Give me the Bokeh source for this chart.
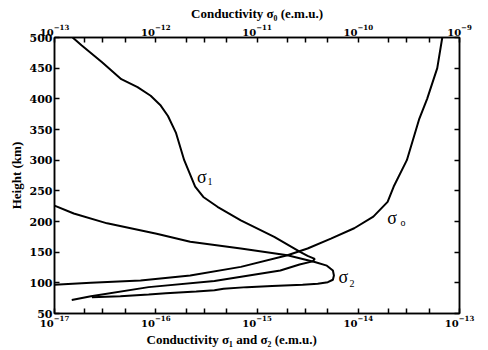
from bokeh.plotting import figure
from bokeh.models import (Range1d, LogScale, LogAxis, LinearAxis, FixedTicker, Label, Title)
from bokeh.embed import file_html
from bokeh.resources import INLINE

# ---- data ----
sigma1_height = [500, 487, 460, 432, 419, 405, 389, 372, 345, 300, 257, 240, 224,
                 202, 175, 150, 144, 139, 135, 130, 120, 103, 93, 78, 72]
sigma1_value = [1.51e-17, 1.86e-17, 2.93e-17, 4.57e-17, 6.61e-17, 8.91e-17, 1.12e-16,
                1.32e-16, 1.58e-16, 1.91e-16, 2.45e-16, 2.95e-16, 4.07e-16,
                6.92e-16, 1.48e-15, 2.69e-15, 3.16e-15, 3.72e-15, 3.55e-15, 2.63e-15,
                1.70e-15, 3.80e-16, 8.51e-17, 2.29e-17, 1.48e-17]

sigma2_height = [226, 213, 197, 180, 167, 156, 145, 134, 128, 120, 112, 105, 101, 98.5,
                 97, 95, 93, 90.5, 88, 86, 83, 81, 78, 76.5]
sigma2_value = [1.00e-17, 1.55e-17, 3.31e-17, 1.02e-16, 2.19e-16, 6.92e-16, 2.00e-15,
                3.72e-15, 4.90e-15, 5.62e-15, 5.75e-15, 5.62e-15, 5.01e-15, 3.98e-15,
                2.82e-15, 1.41e-15, 7.94e-16, 4.68e-16, 3.80e-16, 2.51e-16, 1.26e-16,
                8.51e-17, 4.47e-17, 2.34e-17]

sigma0_height = [500, 450, 400, 366, 300, 257, 232, 208, 189, 172, 156, 145, 126, 112,
                 104, 100, 97, 96]
sigma0_value = [6.76e-10, 6.03e-10, 4.79e-10, 3.98e-10, 3.02e-10, 2.24e-10, 1.95e-10,
                1.41e-10, 9.12e-11, 5.37e-11, 3.16e-11, 2.00e-11, 6.92e-12, 2.19e-12,
                7.08e-13, 2.29e-13, 1.00e-13, 7.94e-14]

bottom_decades = [1e-17, 1e-16, 1e-15, 1e-14, 1e-13]
top_decades = [1e-13, 1e-12, 1e-11, 1e-10, 1e-9]
minor_mult = [2, 3, 5]
height_ticks = [50, 100, 150, 200, 250, 300, 350, 400, 450, 500]

SERIF = "Liberation Serif"
NUMF = "DejaVu Serif"

p = figure(width=488, height=350, x_axis_type="log",
           x_range=Range1d(1e-17, 1e-13), y_range=Range1d(50, 500),
           output_backend="svg", toolbar_location=None,
           min_border_left=54, min_border_right=29, min_border_top=37,
           min_border_bottom=37)
p.grid.visible = False
p.outline_line_color = "black"
p.outline_line_width = 1.5

p.extra_x_ranges = {"top": Range1d(1e-13, 1e-9)}
p.extra_x_scales = {"top": LogScale()}


def style(ax, size="10px"):
    ax.axis_line_width = 1.5
    ax.axis_line_color = "black"
    ax.major_tick_in = 5
    ax.major_tick_out = 0
    ax.minor_tick_in = 5
    ax.minor_tick_out = 0
    ax.major_tick_line_width = 1.5
    ax.minor_tick_line_width = 1.5
    ax.major_label_text_font = NUMF
    ax.major_label_text_font_size = size
    ax.major_label_text_font_style = "bold"
    ax.major_label_text_color = "black"
    ax.axis_label_text_font = SERIF
    ax.axis_label_text_font_size = "13px"
    ax.axis_label_text_font_style = "bold"
    ax.axis_label_text_color = "black"
    ax.axis_label_standoff = 1
    ax.major_label_standoff = 2


xb = p.xaxis[0]
xb.ticker = FixedTicker(ticks=bottom_decades,
                        minor_ticks=[m * d for d in bottom_decades[:-1] for m in minor_mult])
style(xb)

yl = p.yaxis[0]
yl.ticker = FixedTicker(ticks=height_ticks)
yl.axis_label = "Height (km)"
style(yl, "11px")
yl.axis_label_standoff = 3

top = LogAxis(x_range_name="top",
              ticker=FixedTicker(ticks=top_decades,
                                 minor_ticks=[m * d for d in top_decades[:-1] for m in minor_mult]),
              axis_label="Conductivity σ₀ (e.m.u.)")
style(top)
p.add_layout(top, "above")

right = LinearAxis(ticker=FixedTicker(ticks=height_ticks),
                   major_label_overrides={t: "" for t in height_ticks})
style(right)
p.add_layout(right, "right")

# bottom axis title, placed left of centre as in the original
p.add_layout(Title(text="Conductivity σ₁ and σ₂ (e.m.u.)", align="left", offset=92,
                   standoff=0, text_font=SERIF, text_font_size="13px",
                   text_font_style="bold", text_color="black"), "below")

p.line(sigma1_value, sigma1_height, line_color="black", line_width=2)
p.line(sigma2_value, sigma2_height, line_color="black", line_width=2)
p.line(sigma0_value, sigma0_height, line_color="black", line_width=2, x_range_name="top")


def sig_label(x, y, sub, sx, sy):
    p.add_layout(Label(x=x, y=y, text="σ", text_font=SERIF, text_font_size="18px",
                       text_baseline="alphabetic", text_color="black"))
    p.add_layout(Label(x=sx, y=sy, text=sub, text_font=SERIF, text_font_size="10px",
                       text_baseline="alphabetic", text_color="black"))


sig_label(2.56e-16, 273, "1", 3.24e-16, 266)
sig_label(1.93e-14, 205, "o", 2.61e-14, 198)
sig_label(6.38e-15, 109, "2", 8.2e-15, 99)

open("out.html", "w").write(file_html(p, INLINE))
